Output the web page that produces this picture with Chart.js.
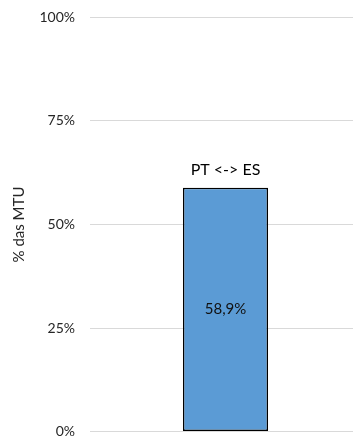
<!DOCTYPE html>
<html>
<head>
<meta charset="utf-8">
<script src="https://cdn.jsdelivr.net/npm/chart.js@4.4.1/dist/chart.umd.min.js"></script>
<style>
  html, body { margin: 0; padding: 0; background: #fff; overflow: hidden; }
  #wrap { width: 361px; height: 461px; margin-top: -6px; }
</style>
</head>
<body>
<div id="wrap"><canvas id="mtuChart"></canvas></div>
<script>
const categories = ['PT <-> ES'];
const shares = [58.9];
const tickValues = [0, 25, 50, 75, 100];

const FONT = 'Lato, Carlito, "Liberation Sans", sans-serif';

// writes the interconnection name over each bar and its share inside it
const barLabels = {
    id: 'barLabels',
    afterDatasetsDraw(chart) {
        const c = chart.ctx;
        const meta = chart.getDatasetMeta(0);
        c.save();
        c.textAlign = 'center';
        c.textBaseline = 'middle';
        meta.data.forEach((bar, i) => {
            const base = bar.base;
            c.fillStyle = '#000';
            c.font = '16px ' + FONT;
            c.fillText(categories[i], bar.x, bar.y - 18);
            c.font = '15px ' + FONT;
            c.fillStyle = '#111';
            const txt = shares[i].toFixed(1).replace('.', ',') + '%';
            c.fillText(txt, bar.x, (bar.y + base) / 2);
        });
        c.restore();
    }
};

new Chart(document.getElementById('mtuChart'), {
    type: 'bar',
    data: {
        labels: categories,
        datasets: [{
            data: shares,
            backgroundColor: '#5B9BD5',
            borderColor: '#000',
            borderWidth: 1.5,
            borderSkipped: false,
            barPercentage: 0.314,
            categoryPercentage: 1
        }]
    },
    options: {
        responsive: true,
        maintainAspectRatio: false,
        animation: false,
        layout: { padding: { top: 3, bottom: 0, left: 0, right: 0 } },
        plugins: {
            legend: { display: false },
            tooltip: { enabled: false }
        },
        scales: {
            x: { display: false },
            y: {
                min: 0,
                max: 100,
                afterBuildTicks(axis) {
                    axis.ticks = tickValues.map(v => ({ value: v }));
                },
                afterFit(axis) { axis.width = 90; },
                border: { display: false },
                grid: { color: '#d9d9d9', lineWidth: 1, drawTicks: false },
                ticks: {
                    padding: 15,
                    color: '#262626',
                    font: { family: FONT, size: 14 },
                    callback: v => v + '%'
                },
                title: {
                    display: true,
                    text: '% das MTU',
                    color: '#262626',
                    font: { family: FONT, size: 15 },
                    padding: { top: 10, bottom: 0 }
                }
            }
        }
    },
    plugins: [barLabels]
});
</script>
</body>
</html>
